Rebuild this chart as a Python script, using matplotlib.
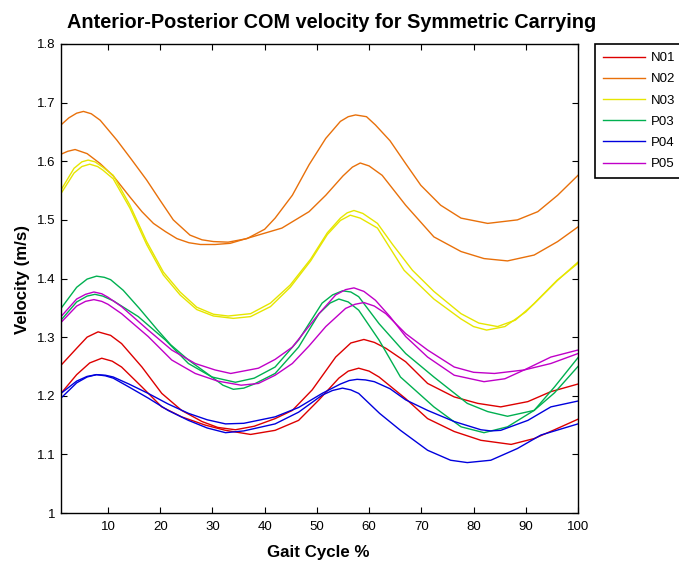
import matplotlib
matplotlib.use('Agg')
import matplotlib.pyplot as plt

plt.rcParams['font.family'] = ['Liberation Sans', 'DejaVu Sans']

subjects = ['N01', 'N02', 'N03', 'P03', 'P04', 'P05']
colors = ['#dd0000', '#e8700a', '#e6e600', '#00b050', '#0000dd', '#c000c8']

x_ticks = [10, 20, 30, 40, 50, 60, 70, 80, 90, 100]
y_ticks = [1.0, 1.1, 1.2, 1.3, 1.4, 1.5, 1.6, 1.7, 1.8]
y_tick_labels = ['1', '1.1', '1.2', '1.3', '1.4', '1.5', '1.6', '1.7', '1.8']

# N01 (red)
n01_t1_x = [1, 4, 6, 8.1, 10.5, 12.6, 16.5, 20.3, 24.1, 28, 31, 34.4, 38, 42, 45.3, 49.1, 53.6, 56.5, 59, 61, 63.2, 67, 71.2, 76.3, 80.8, 85.2, 90.4, 94.8, 100]
n01_t1_v = [1.252, 1.281, 1.300, 1.309, 1.303, 1.289, 1.249, 1.204, 1.175, 1.156, 1.146, 1.142, 1.148, 1.161, 1.175, 1.210, 1.266, 1.290, 1.296, 1.291, 1.281, 1.258, 1.221, 1.198, 1.187, 1.181, 1.190, 1.207, 1.220]
n01_t2_x = [1, 4, 6.5, 8.8, 10.8, 12.6, 16.5, 20.3, 24.1, 28.6, 32.5, 37.3, 42, 46.5, 50.4, 54.2, 56, 58, 60, 61.9, 67, 71.2, 76.3, 81.4, 87.2, 91.6, 95.5, 100]
n01_t2_v = [1.204, 1.236, 1.256, 1.264, 1.259, 1.249, 1.215, 1.181, 1.164, 1.150, 1.141, 1.134, 1.141, 1.158, 1.193, 1.230, 1.242, 1.247, 1.242, 1.232, 1.195, 1.161, 1.139, 1.124, 1.117, 1.127, 1.142, 1.160]

# N02 (orange)
n02_t1_x = [1, 2.5, 4, 5.3, 6.8, 8.5, 11.7, 14.5, 17.4, 20, 22.5, 25.7, 28, 30.2, 33, 36.6, 40, 42, 45.3, 48.5, 51.7, 54.5, 56, 57.4, 59.5, 61.2, 64, 67, 69.9, 73.7, 77.6, 82.7, 88.4, 92.3, 96.1, 100]
n02_t1_v = [1.662, 1.674, 1.682, 1.685, 1.681, 1.670, 1.636, 1.603, 1.568, 1.533, 1.500, 1.474, 1.466, 1.463, 1.462, 1.468, 1.484, 1.503, 1.542, 1.594, 1.639, 1.668, 1.676, 1.679, 1.676, 1.662, 1.635, 1.596, 1.559, 1.525, 1.503, 1.494, 1.500, 1.514, 1.542, 1.576]
n02_t2_x = [1, 2.3, 3.7, 6, 8.5, 11, 14.2, 16.5, 18.7, 21, 23.2, 25.5, 27.7, 30.5, 33.4, 37.6, 43.3, 48.5, 51.7, 55, 56.8, 58.3, 60, 62.5, 67, 72.4, 77.6, 82, 86.5, 91.6, 96.1, 100]
n02_t2_v = [1.612, 1.617, 1.620, 1.613, 1.596, 1.575, 1.539, 1.514, 1.494, 1.480, 1.468, 1.461, 1.458, 1.458, 1.460, 1.471, 1.486, 1.514, 1.542, 1.575, 1.590, 1.597, 1.592, 1.576, 1.525, 1.471, 1.446, 1.434, 1.430, 1.440, 1.463, 1.488]

# N03 (yellow)
n03_t1_x = [1, 3.5, 5, 6.2, 7.5, 9, 11, 14.2, 17.4, 20.6, 23.8, 27, 30.2, 33, 37.3, 41.1, 44.9, 48.8, 52, 54.5, 55.8, 57.1, 58.8, 61.6, 64.5, 68.3, 72.4, 77.6, 81, 84.6, 88, 91.6, 96.1, 100]
n03_t1_v = [1.551, 1.588, 1.599, 1.602, 1.599, 1.590, 1.576, 1.525, 1.463, 1.411, 1.377, 1.351, 1.339, 1.336, 1.340, 1.358, 1.389, 1.433, 1.478, 1.503, 1.512, 1.516, 1.511, 1.494, 1.458, 1.414, 1.378, 1.340, 1.324, 1.318, 1.329, 1.357, 1.397, 1.428]
n03_t2_x = [1, 3.5, 5, 6.5, 8, 9, 11, 14.2, 17.4, 20.6, 23.8, 27, 30.2, 34, 37.3, 41.1, 44.9, 48.8, 52, 54.5, 56.4, 58.3, 61.6, 64, 66.7, 72.4, 77.6, 80, 82.5, 86, 90, 96, 100]
n03_t2_v = [1.545, 1.580, 1.591, 1.595, 1.591, 1.585, 1.570, 1.520, 1.458, 1.406, 1.372, 1.347, 1.336, 1.332, 1.335, 1.352, 1.385, 1.430, 1.475, 1.499, 1.508, 1.503, 1.486, 1.452, 1.414, 1.365, 1.331, 1.318, 1.312, 1.318, 1.343, 1.397, 1.426]

# P03 (green)
p03_t1_x = [1, 4, 6, 7.8, 9.3, 10.5, 12.9, 16, 19.5, 22, 25.4, 29.9, 32, 34, 36, 38, 42, 46.5, 50.4, 52.5, 54.2, 56, 58, 61.9, 66, 72.4, 77.6, 82, 86.5, 91.6, 95.5, 100]
p03_t1_v = [1.349, 1.385, 1.399, 1.404, 1.402, 1.398, 1.380, 1.349, 1.312, 1.287, 1.261, 1.232, 1.218, 1.211, 1.213, 1.220, 1.238, 1.283, 1.340, 1.358, 1.365, 1.360, 1.346, 1.295, 1.232, 1.181, 1.147, 1.137, 1.147, 1.175, 1.215, 1.265]
p03_t2_x = [1, 4, 6, 7.5, 9, 11, 15.8, 21, 25.4, 29.9, 34.4, 38, 42, 46.5, 51, 53, 54.9, 56.5, 58, 61.9, 67, 72.4, 78.8, 82.7, 86.5, 91.6, 95.5, 100]
p03_t2_v = [1.329, 1.360, 1.370, 1.373, 1.370, 1.362, 1.335, 1.295, 1.255, 1.232, 1.223, 1.230, 1.249, 1.295, 1.358, 1.372, 1.379, 1.377, 1.369, 1.323, 1.272, 1.232, 1.187, 1.173, 1.165, 1.175, 1.205, 1.250]

# P04 (blue)
p04_t1_x = [1, 4, 6, 7.8, 9.5, 11, 14, 17.7, 21.5, 25.4, 29, 32.5, 36, 42, 46.5, 51, 54.5, 56.2, 57.7, 59.3, 61, 64, 67, 71.2, 76.3, 81.4, 83.3, 85.2, 90.4, 94.8, 100]
p04_t1_v = [1.204, 1.225, 1.233, 1.236, 1.235, 1.232, 1.220, 1.204, 1.186, 1.170, 1.159, 1.152, 1.153, 1.164, 1.180, 1.204, 1.220, 1.226, 1.228, 1.227, 1.224, 1.212, 1.193, 1.175, 1.156, 1.142, 1.140, 1.141, 1.158, 1.181, 1.191]
p04_t2_x = [1, 4, 6, 7.8, 9.5, 11, 14, 17.7, 21.5, 25.4, 29, 32.5, 36, 42, 46.5, 51, 53, 54.9, 56.5, 58, 62, 66, 71.2, 75.6, 78.8, 83.3, 88.4, 92.9, 100]
p04_t2_v = [1.196, 1.222, 1.232, 1.236, 1.234, 1.230, 1.215, 1.196, 1.175, 1.158, 1.145, 1.137, 1.140, 1.152, 1.172, 1.201, 1.209, 1.213, 1.210, 1.204, 1.170, 1.141, 1.107, 1.090, 1.086, 1.090, 1.110, 1.133, 1.152]

# P05 (magenta)
p05_t1_x = [1, 4, 5.7, 7.3, 8.8, 10, 12.6, 17.7, 22.2, 26.7, 30.5, 33.5, 38.8, 42, 45.3, 50.4, 53.6, 55.5, 57.1, 59, 61.2, 64, 67, 71.2, 76.3, 82, 86, 89.7, 94.8, 100]
p05_t1_v = [1.335, 1.365, 1.373, 1.377, 1.374, 1.368, 1.352, 1.312, 1.278, 1.255, 1.244, 1.238, 1.247, 1.262, 1.283, 1.340, 1.372, 1.381, 1.384, 1.378, 1.363, 1.335, 1.301, 1.266, 1.235, 1.224, 1.229, 1.244, 1.266, 1.278]
p05_t2_x = [1, 4, 5.7, 7.3, 8.8, 10, 12.6, 17.7, 22.2, 26.7, 31, 35.5, 38.8, 42, 45.3, 48.5, 51.7, 55.5, 57.3, 59, 61, 63.2, 67, 71.2, 76.3, 80, 84, 89.7, 94.8, 100]
p05_t2_v = [1.325, 1.353, 1.361, 1.364, 1.361, 1.356, 1.340, 1.301, 1.261, 1.238, 1.225, 1.218, 1.221, 1.235, 1.255, 1.285, 1.318, 1.349, 1.356, 1.359, 1.353, 1.340, 1.306, 1.278, 1.249, 1.240, 1.238, 1.244, 1.255, 1.272]

trials = [
    [(n01_t1_x, n01_t1_v), (n01_t2_x, n01_t2_v)],
    [(n02_t1_x, n02_t1_v), (n02_t2_x, n02_t2_v)],
    [(n03_t1_x, n03_t1_v), (n03_t2_x, n03_t2_v)],
    [(p03_t1_x, p03_t1_v), (p03_t2_x, p03_t2_v)],
    [(p04_t1_x, p04_t1_v), (p04_t2_x, p04_t2_v)],
    [(p05_t1_x, p05_t1_v), (p05_t2_x, p05_t2_v)],
]

W, H = 679, 563
fig = plt.figure(figsize=(W / 100, H / 100), dpi=100)
ax = fig.add_axes([61 / W, 1 - 513 / H, (578 - 61) / W, (513 - 44) / H])

handles = []
for name, col, pair in zip(subjects, colors, trials):
    first = None
    for xs, vs in pair:
        ln, = ax.plot(xs, vs, color=col, lw=1.0, solid_joinstyle='round')
        if first is None:
            first = ln
    handles.append(first)

ax.set_xlim(1, 100)
ax.set_ylim(1, 1.8)
ax.set_xticks(x_ticks)
ax.set_xticklabels([str(t) for t in x_ticks])
ax.set_yticks(y_ticks)
ax.set_yticklabels(y_tick_labels)
ax.tick_params(axis='both', direction='in', top=True, right=True, length=4,
               width=0.8, labelsize=9.5, colors='black')
ax.tick_params(axis='x', pad=6)
ax.tick_params(axis='y', pad=4)
for s in ax.spines.values():
    s.set_linewidth(1.0)
    s.set_color('black')

fig.text(331.5 / W, 1 - 22 / H, 'Anterior-Posterior COM velocity for Symmetric Carrying',
         ha='center', va='center', fontsize=14.3, fontweight='bold')
fig.text(318.5 / W, 1 - 552 / H, 'Gait Cycle %', ha='center', va='center',
         fontsize=12.2, fontweight='bold')
fig.text(22 / W, 1 - 279 / H, 'Velocity (m/s)', ha='center', va='center',
         rotation=90, fontsize=12.2, fontweight='bold')

leg = fig.legend(handles, subjects, loc='upper left',
                 bbox_to_anchor=(595 / W, 1 - 44 / H), bbox_transform=fig.transFigure,
                 borderaxespad=0, fontsize=9.5, handlelength=3.2, handletextpad=0.4,
                 labelspacing=0.68, borderpad=0.6, fancybox=False, framealpha=1)
leg.get_frame().set_edgecolor('black')
leg.get_frame().set_linewidth(1.2)

fig.savefig('out.png', dpi=100)
